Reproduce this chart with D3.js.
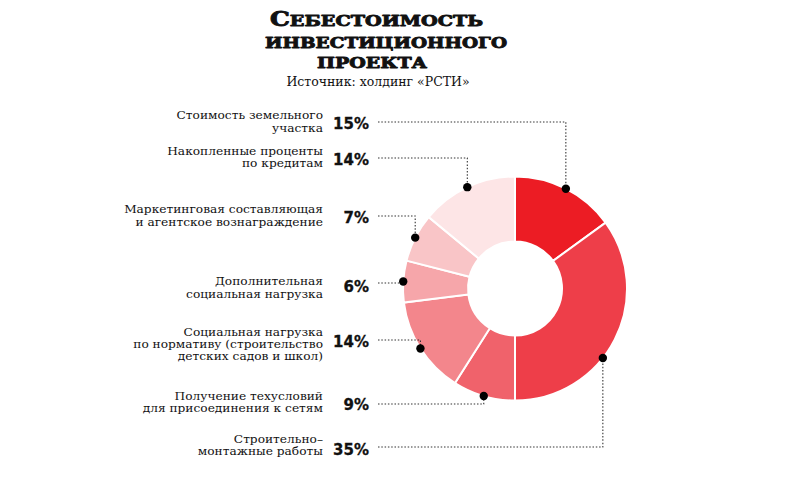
<!DOCTYPE html>
<html><head><meta charset="utf-8">
<script src="https://cdn.jsdelivr.net/npm/d3@7"></script>
<style>html,body{margin:0;padding:0;background:#fff;}svg{display:block;}</style>
</head><body>
<svg id="chart" width="800" height="477"></svg>
<script>
// Data (slices in clockwise order starting at 12 o'clock)
const categories = [
  ["Стоимость земельного", "участка"],
  ["Строительно–", "монтажные работы"],
  ["Получение техусловий", "для присоединения к сетям"],
  ["Социальная нагрузка", "по нормативу (строительство", "детских садов и школ)"],
  ["Дополнительная", "социальная нагрузка"],
  ["Маркетинговая составляющая", "и агентское вознаграждение"],
  ["Накопленные проценты", "по кредитам"]
];
const values = [15, 35, 9, 14, 6, 7, 14];
const colors = ["#ec1c24", "#ee3e49", "#f0626b", "#f3868c", "#f6a6aa", "#f9c5c7", "#fde5e6"];
const titleLines = ["Себестоимость", "инвестиционного", "проекта"];
const subtitle = "Источник: холдинг «РСТИ»";

// Layout
const leaderY = [122, 447, 404, 340, 283, 216, 158];
const pctY    = [123, 449.5, 404, 341.5, 286.5, 217.5, 159];
const textY   = [125.5, 449, 406, 348, 291.5, 219.5, 161];
const dotFrac = [0.5, 0.59, 0.5, 0.5, 0.5, 0.5, 0.5];
const cx = 515, cy = 288.5, rOuter = 112, rInner = 47;

const svg = d3.select("#chart");

// Title (small caps look: first letter larger, the rest upper-cased smaller)
const titleSpec = [
  {y: 26, x0: 270, x1: 483},
  {y: 48, x0: 265, x1: 507},
  {y: 68, x0: 317, x1: 427}
];
titleLines.forEach((t, i) => {
  const s = titleSpec[i];
  const el = svg.append("text")
    .attr("x", s.x0).attr("y", s.y)
    .attr("textLength", s.x1 - s.x0)
    .attr("lengthAdjust", "spacingAndGlyphs")
    .style("font-family", "'DejaVu Serif'")
    .style("font-weight", "900")
    .style("text-transform", "uppercase")
    .attr("fill", "#111")
    .attr("stroke", "#111")
    .attr("stroke-width", 0.9)
    .attr("stroke-linejoin", "round");
  if (i === 0) {
    el.append("tspan").style("font-size", "19.5px").text(t.slice(0, 1));
    el.append("tspan").style("font-size", "15px").text(t.slice(1));
  } else {
    el.style("font-size", "15px").text(t);
  }
});
svg.append("text")
  .attr("x", 378).attr("y", 86)
  .attr("text-anchor", "middle")
  .style("font-family", "'DejaVu Serif'")
  .style("font-size", "12.5px")
  .attr("fill", "#111")
  .text(subtitle);

// Donut
const pie = d3.pie().sort(null).value(d => d)(values);
const arc = d3.arc().innerRadius(rInner).outerRadius(rOuter);
const g = svg.append("g").attr("transform", `translate(${cx},${cy})`);
g.selectAll("path.slice").data(pie).join("path")
  .attr("class", "slice")
  .attr("d", arc)
  .attr("fill", (d, i) => colors[i])
  .attr("stroke", "#fff")
  .attr("stroke-width", 2);

// Leaders, dots and labels
const labelRight = 323, pctRight = 369, lineStart = 378, stretch = 1.16;
pie.forEach((d, i) => {
  const a = d.startAngle + dotFrac[i] * (d.endAngle - d.startAngle);
  const dx = cx + rOuter * Math.sin(a);
  const dy = cy - rOuter * Math.cos(a);
  const ly = leaderY[i];
  svg.append("path")
    .attr("d", `M${lineStart},${ly}H${dx}V${dy}`)
    .attr("fill", "none")
    .attr("stroke", "#333")
    .attr("stroke-width", 1.1)
    .attr("stroke-dasharray", "1.5,1.8");
  svg.append("circle").attr("cx", dx).attr("cy", dy).attr("r", 4.2).attr("fill", "#000");

  svg.append("text")
    .attr("x", pctRight).attr("y", pctY[i] + 5.5)
    .attr("text-anchor", "end")
    .style("font-family", "'DejaVu Sans'")
    .style("font-weight", "bold")
    .style("font-size", "15px")
    .attr("fill", "#111")
    .attr("stroke", "#111")
    .attr("stroke-width", 0.3)
    .text(values[i] + "%");

  const lines = categories[i];
  const n = lines.length;
  lines.forEach((ln, k) => {
    const t = svg.append("text")
      .attr("x", labelRight)
      .attr("y", textY[i] + (k - (n - 1) / 2) * 12.3)
      .attr("text-anchor", "end")
      .style("font-family", "'DejaVu Serif'")
      .style("font-size", "10.5px")
      .attr("fill", "#111")
      .text(ln);
    const w = t.node().getComputedTextLength();
    t.attr("textLength", w * stretch).attr("lengthAdjust", "spacingAndGlyphs");
  });
});
</script>
</body></html>
